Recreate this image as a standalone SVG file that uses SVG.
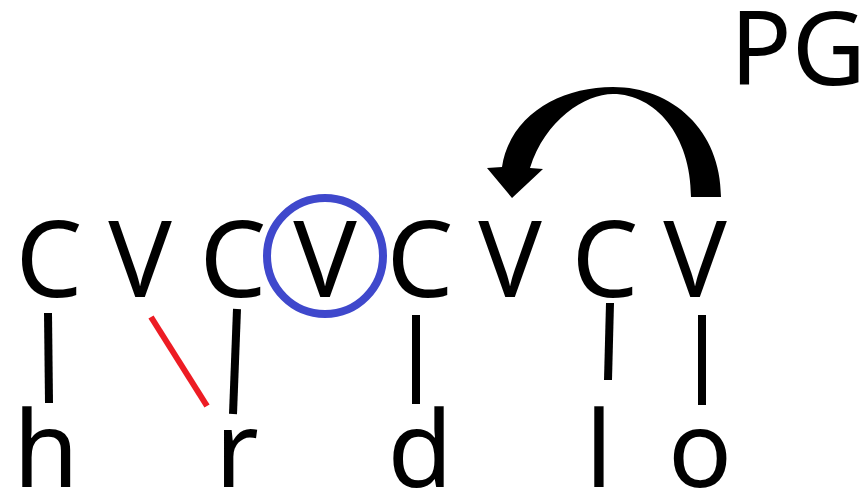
<svg xmlns="http://www.w3.org/2000/svg" width="864" height="491" viewBox="0 0 864 491">
<style>
.t{font-family:"Noto Sans","Open Sans","DejaVu Sans",sans-serif;font-size:106px;fill:#000;text-anchor:middle}
.pg{font-size:102px}
.ln{stroke:#000;stroke-width:8;fill:none}
.red{stroke:#ED1C24;stroke-width:6;fill:none}
</style>
<rect width="864" height="491" fill="#fff"/>
<g id="skeleton">
<g id="c1"><text class="t" x="49" y="297">C</text></g>
<g id="v1"><text class="t" x="140" y="297">V</text></g>
<g id="c2"><text class="t" x="233" y="297">C</text></g>
<g id="v2"><text class="t" x="325" y="297">V</text><circle cx="325" cy="256" r="58" fill="none" stroke="#3F48CC" stroke-width="8"/></g>
<g id="c3"><text class="t" x="420" y="297">C</text></g>
<g id="v3"><text class="t" x="510" y="297">V</text></g>
<g id="c4"><text class="t" x="605" y="297">C</text></g>
<g id="v4"><text class="t" x="695" y="297">V</text></g>
</g>
<g id="segments">
<g id="h"><text class="t" x="46" y="487">h</text></g>
<g id="r"><text class="t" x="237" y="487">r</text></g>
<g id="d"><text class="t" x="420" y="487">d</text></g>
<g id="l"><text class="t" x="599" y="487">l</text></g>
<g id="o"><text class="t" x="700" y="487">o</text></g>
</g>
<g id="pg"><text class="t pg" x="798" y="85">PG</text></g>
<g id="connectors">
<line class="ln" x1="48" y1="313" x2="49" y2="403"/>
<line class="red" x1="151" y1="317" x2="207" y2="406"/>
<line class="ln" x1="237" y1="309" x2="233" y2="414"/>
<line class="ln" x1="416" y1="315" x2="416" y2="404"/>
<line class="ln" x1="610" y1="303" x2="608" y2="380"/>
<line class="ln" x1="702" y1="315" x2="702" y2="405"/>
<path id="arrow" fill="#000" d="M721,197 C721,130 672,87 613,87 C560,87 510,115 502,167 L487,168 L512,198 L543,169 L530,168 C545,120 585,94 613,94 C655,94 691,135 691,197 Z"/>
</g>
</svg>
